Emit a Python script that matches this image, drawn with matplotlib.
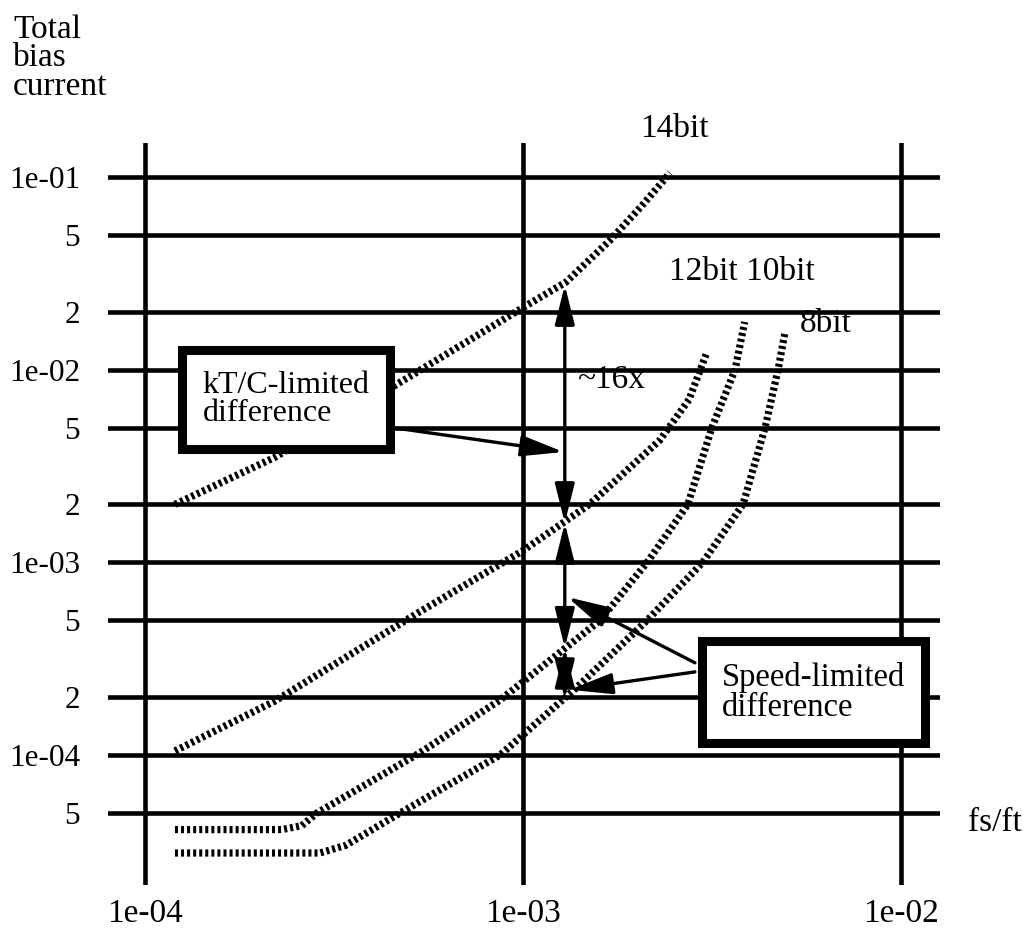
import matplotlib
matplotlib.use("Agg")
import matplotlib.pyplot as plt
import numpy as np

plt.rcParams['font.family'] = ['Liberation Serif', 'DejaVu Serif']

# ---- data ----
x_grid = [1e-4, 1e-3, 1e-2]
x_labels = ["1e-04", "1e-03", "1e-02"]
y_grid = [1e-1, 5e-2, 2e-2, 1e-2, 5e-3, 2e-3, 1e-3, 5e-4, 2e-4, 1e-4, 5e-5]
y_labels = ["1e-01", "5", "2", "1e-02", "5", "2", "1e-03", "5", "2", "1e-04", "5"]

x14 = [1.2e-4, 2.2e-4, 4.5e-4, 1.0e-3, 1.3e-3, 1.7e-3, 2.05e-3, 2.45e-3]
y14 = [2.0e-3, 3.5e-3, 8.1e-3, 2.1e-2, 2.85e-2, 4.7e-2, 7.0e-2, 1.05e-1]

x12 = [1.2e-4, 2.2e-4, 5.3e-4, 1.0e-3, 1.5e-3, 2.3e-3, 2.75e-3, 3.05e-3]
y12 = [1.05e-4, 1.9e-4, 5.5e-4, 1.15e-3, 2.0e-3, 4.3e-3, 7.0e-3, 1.2e-2]

x10 = [1.2e-4, 2.3e-4, 2.6e-4, 2.85e-4, 5.35e-4, 8.7e-4, 1.6e-3, 2.13e-3, 2.73e-3, 3.16e-3, 3.64e-3, 3.86e-3]
y10 = [4.1e-5, 4.1e-5, 4.3e-5, 5.0e-5, 1.03e-4, 1.93e-4, 5.0e-4, 1.0e-3, 2.0e-3, 5.0e-3, 1.0e-2, 1.77e-2]

x8 = [1.2e-4, 2.9e-4, 3.4e-4, 4.73e-4, 8.7e-4, 1.39e-3, 2.13e-3, 2.99e-3, 3.82e-3, 4.37e-3, 4.73e-3, 4.93e-3]
y8 = [3.1e-5, 3.1e-5, 3.4e-5, 5.0e-5, 1.0e-4, 2.25e-4, 5.0e-4, 1.0e-3, 2.0e-3, 5.0e-3, 1.0e-2, 1.55e-2]

arrow_x = 1.29e-3
arrow_levels = [2.75e-2, 1.6e-3, 3.6e-4, 1.95e-4]

FS = 24
FS_BOX = 23

# ---- figure ----
W, H = 1034, 931
fig = plt.figure(figsize=(W / 100, H / 100), dpi=100)
left, right, top, bottom = 108, 940, 143, 885
ax = fig.add_axes([left / W, 1 - bottom / H, (right - left) / W, (bottom - top) / H])
ax.set_xscale('log')
ax.set_yscale('log')
ax.set_xlim(10 ** -4.0979, 10 ** -1.8968)
ax.set_ylim(10 ** -4.6747, 10 ** -0.8236)
for s in ax.spines.values():
    s.set_visible(False)
ax.minorticks_off()

for yv in y_grid:
    ax.axhline(yv, color='black', lw=3.3, solid_capstyle='round', zorder=1)
for xv in x_grid:
    ax.axvline(xv, color='black', lw=3.3, solid_capstyle='round', zorder=1)

ax.set_yticks(y_grid, y_labels)
ax.set_xticks(x_grid, x_labels)
ax.tick_params(axis='y', length=0, pad=20, labelsize=22.5)
ax.tick_params(axis='x', length=0, pad=10, labelsize=FS)

for xs, ys in [(x14, y14), (x12, y12), (x10, y10), (x8, y8)]:
    ax.plot(xs, ys, color='black', lw=5.2, dashes=(0.42, 0.42), zorder=3)

arrow_style = '-|>,head_length=1.3,head_width=0.32'
double_style = '<|-|>,head_length=1.2,head_width=0.3'

# double arrows
for a, b in zip(arrow_levels[:-1], arrow_levels[1:]):
    ax.annotate('', xy=(arrow_x, b), xytext=(arrow_x, a),
                arrowprops=dict(arrowstyle=double_style,
                                mutation_scale=20, lw=2.4, color='black',
                                shrinkA=0, shrinkB=0), zorder=4)

# text annotations
ax.text(2.52e-3, 0.177, "14bit", fontsize=FS, ha='center', va='center')
ax.text(3.79e-3, 3.21e-2, "12bit 10bit", fontsize=FS, ha='center', va='center')
ax.text(6.34e-3, 1.73e-2, "8bit", fontsize=FS, ha='center', va='center')
ax.text(1.39e-3, 8.85e-3, "~16x", fontsize=FS, ha='left', va='center')

# kT/C box and arrow
ax.annotate('', xy=(1.28e-3, 3.74e-3), xytext=(4.4e-4, 5.04e-3),
            arrowprops=dict(arrowstyle=arrow_style,
                            mutation_scale=20, lw=2.4, color='black',
                            shrinkA=0, shrinkB=0), zorder=4)
ax.text(1.42e-4, 7.0e-3, "kT/C-limited\ndifference", fontsize=FS_BOX, ha='left', va='center',
        linespacing=0.98, zorder=6,
        bbox=dict(boxstyle='square,pad=0.65', fc='white', ec='black', lw=6.5))

# speed box and arrows
ax.annotate('', xy=(1.31e-3, 6.6e-4), xytext=(2.85e-3, 3.01e-4),
            arrowprops=dict(arrowstyle=arrow_style,
                            mutation_scale=20, lw=2.4, color='black',
                            shrinkA=0, shrinkB=0), zorder=4)
ax.annotate('', xy=(1.33e-3, 2.18e-4), xytext=(2.85e-3, 2.70e-4),
            arrowprops=dict(arrowstyle=arrow_style,
                            mutation_scale=20, lw=2.4, color='black',
                            shrinkA=0, shrinkB=0), zorder=4)
ax.text(3.36e-3, 2.12e-4, "Speed-limited\ndifference", fontsize=FS_BOX + 0.5, ha='left', va='center',
        linespacing=0.98, zorder=6,
        bbox=dict(boxstyle='square,pad=0.62', fc='white', ec='black', lw=6.5))

fig.text(13 / W, 1 - 14 / H, "Total\nbias\ncurrent", fontsize=FS, ha='left', va='top',
         linespacing=0.92)
fig.text(995 / W, 1 - 823 / H, "fs/ft", fontsize=FS, ha='center', va='center')

fig.savefig("out.png", dpi=100)
